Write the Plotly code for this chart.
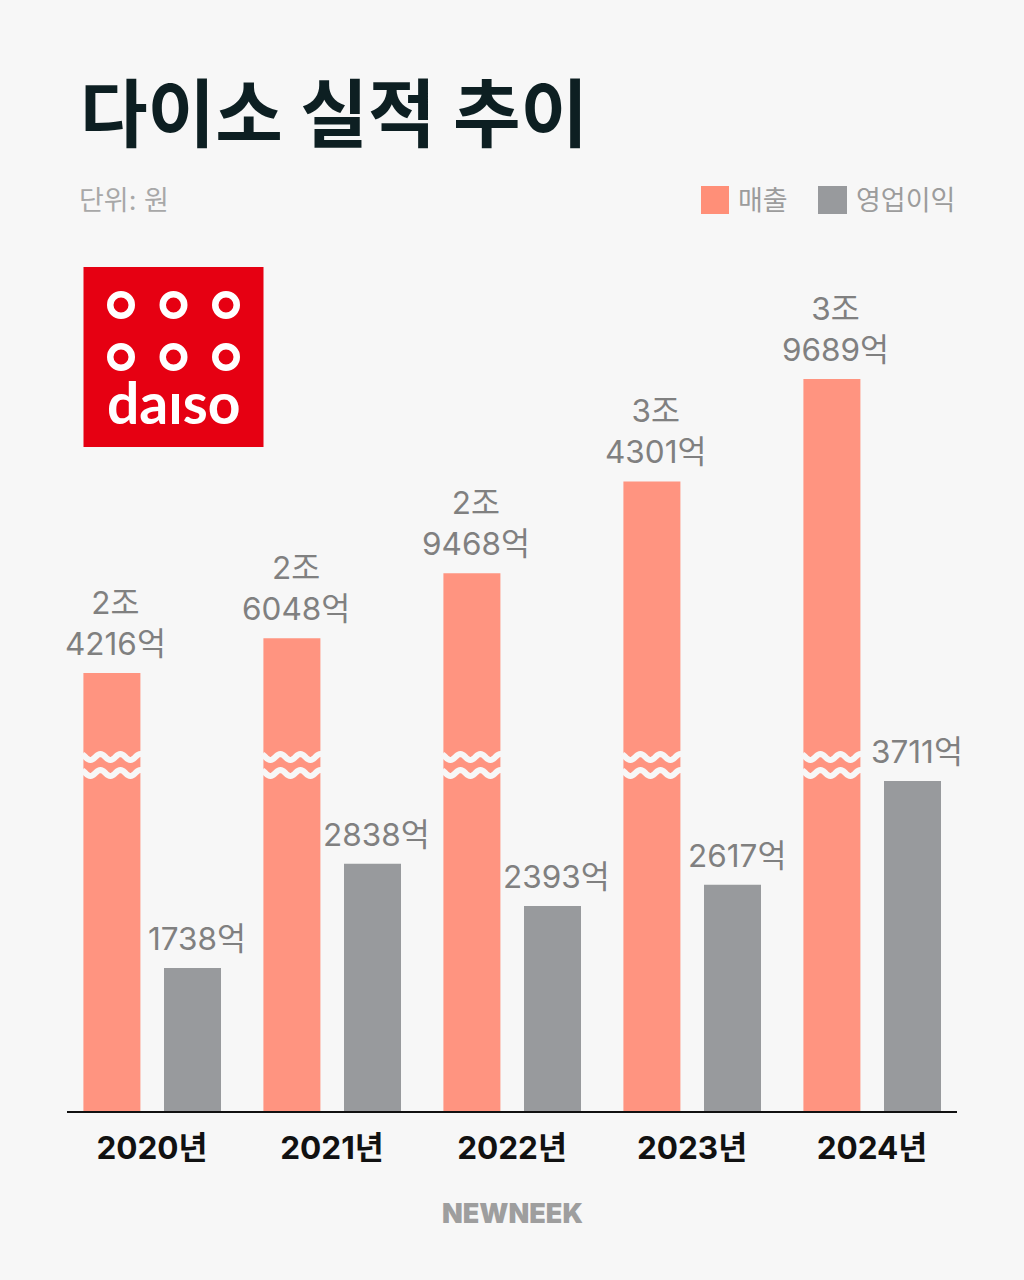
import numpy as np
import plotly.graph_objects as go

# 단위: 억 원
years = ["2020년", "2021년", "2022년", "2023년", "2024년"]
sales = [24216, 26048, 29468, 34301, 39689]
profit = [1738, 2838, 2393, 2617, 3711]
sales_labels = ["2조<br>4216억", "2조<br>6048억", "2조<br>9468억", "3조<br>4301억", "3조<br>9689억"]
profit_labels = ["1738억", "2838억", "2393억", "2617억", "3711억"]

W, H = 1024, 1280
BG = "#f7f7f7"
SALES_COLOR = "#ff9480"
PROFIT_COLOR = "#989a9d"
KR = "Inter, 'Noto Sans CJK KR'"
BAR_W = 57 / 180
SALES_OFFSET = -68.6 / 180
PROFIT_OFFSET = 12 / 180


def px(x):
    return x / W


def py(y):
    return 1 - y / H


def text(s, x, y, size, color, anchor="left", weight=400, family=KR):
    return dict(
        text=s, x=px(x), y=py(y), xref="paper", yref="paper",
        xanchor=anchor, yanchor="middle", showarrow=False,
        font=dict(family=family, size=size, color=color, weight=weight),
    )


def wave_path(x_left, y_mid):
    # 물결 모양 생략선 (막대 축 끊김 표시)
    xs = np.linspace(-1, 58, 60)
    parts = []
    for i, dx in enumerate(xs):
        xv = x_left + dx / 180
        yv = py(y_mid + 3 * np.cos((dx - 7) * 2 * np.pi / 20))
        parts.append(f"{'M' if i == 0 else 'L'}{xv:.4f},{yv:.5f}")
    return " ".join(parts)


xpos = list(range(len(years)))

fig = go.Figure()
fig.add_trace(go.Bar(
    x=xpos, y=sales, name="매출", yaxis="y2",
    width=BAR_W, offset=SALES_OFFSET,
    marker=dict(color=SALES_COLOR, line_width=0),
))
fig.add_trace(go.Bar(
    x=xpos, y=profit, name="영업이익",
    width=BAR_W, offset=PROFIT_OFFSET,
    marker=dict(color=PROFIT_COLOR, line_width=0),
))

annotations = [
    text("다이소 실적 추이", 78, 114, 73.5, "#0d1f22", weight=700),
    text("단위: 원", 77, 200, 27, "#a8a8a8"),
    text("매출", 736, 200, 27, "#9c9c9c"),
    text("영업이익", 854, 200, 27, "#9c9c9c"),
    text("daıso", 173.5, 402, 57, "white", anchor="center", weight=700, family="Lato"),
    text("NEWNEEK", 512, 1213, 27, "#9e9e9e", anchor="center", weight=900, family="Inter"),
]
for i in xpos:
    annotations.append(dict(
        text=sales_labels[i], x=i + SALES_OFFSET + BAR_W / 2, y=sales[i],
        xref="x", yref="y2", xanchor="center", yanchor="bottom", yshift=8, xshift=4,
        showarrow=False, font=dict(family=KR, size=31.5, color="#808080"),
    ))
    annotations.append(dict(
        text=profit_labels[i], x=i + PROFIT_OFFSET + BAR_W / 2, y=profit[i],
        xref="x", yref="y", xanchor="center", yanchor="bottom", yshift=8, xshift=4,
        showarrow=False, font=dict(family=KR, size=31.5, color="#808080"),
    ))

shapes = [
    dict(type="rect", xref="paper", yref="paper", x0=px(83.5), x1=px(263.5), y0=py(447), y1=py(267),
         fillcolor="#e60012", line_width=0),
    dict(type="rect", xref="paper", yref="paper", x0=px(701), x1=px(729), y0=py(214), y1=py(186),
         fillcolor="#ff8f78", line_width=0),
    dict(type="rect", xref="paper", yref="paper", x0=px(818), x1=px(847), y0=py(214), y1=py(186),
         fillcolor=PROFIT_COLOR, line_width=0),
]
for cy in (305, 357):
    for cx in (121, 173.5, 226):
        shapes.append(dict(
            type="circle", xref="paper", yref="paper",
            x0=px(cx - 10.75), x1=px(cx + 10.75), y0=py(cy + 10.75), y1=py(cy - 10.75),
            fillcolor="rgba(0,0,0,0)", line=dict(color="white", width=6.5),
        ))
for i in xpos:
    for y_mid in (757, 773):
        shapes.append(dict(
            type="path", xref="x", yref="paper",
            path=wave_path(i + SALES_OFFSET, y_mid),
            line=dict(color=BG, width=6),
        ))

fig.update_layout(
    width=W, height=H,
    margin=dict(l=0, r=0, t=0, b=0),
    paper_bgcolor=BG, plot_bgcolor=BG,
    showlegend=False,
    xaxis=dict(
        domain=[px(67), px(957)], range=[-85 / 180, 4 + 85 / 180],
        tickvals=xpos, ticktext=years,
        tickfont=dict(family=KR, size=31.5, color="#111111", weight=700),
        showline=True, linecolor="#111111", linewidth=2,
        ticks="outside", ticklen=8, tickcolor="rgba(0,0,0,0)",
        showgrid=False, zeroline=False,
    ),
    yaxis=dict(
        domain=[py(1111), py(250)], range=[229.5, 9312],
        visible=False, showgrid=False, zeroline=False,
    ),
    yaxis2=dict(
        domain=[py(1111), py(250)], range=[1163.4, 46479],
        overlaying="y", visible=False, showgrid=False, zeroline=False,
    ),
    annotations=annotations, shapes=shapes,
)

fig.write_html(
    "out.html",
    config={"displayModeBar": False},
    post_script="document.body.style.margin='0';",
)
